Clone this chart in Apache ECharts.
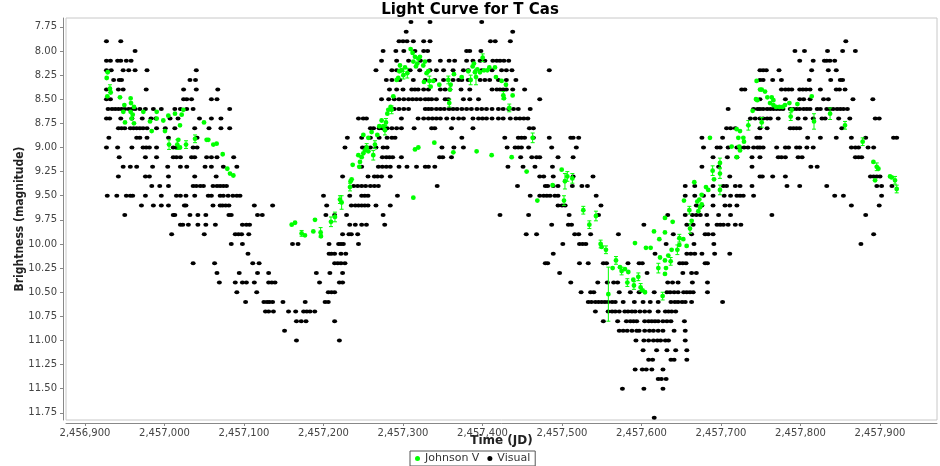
<!DOCTYPE html>
<html>
<head>
<meta charset="utf-8">
<script src="https://cdn.jsdelivr.net/npm/echarts@6/dist/echarts.min.js"></script>
<style>
html,body{margin:0;padding:0;background:#fff}
#chart{width:940px;height:466px}
</style>
</head>
<body>
<div id="chart"></div>
<script>
// julian dates are stored as days after jd0
const jd0 = 2456900
const xTicks = [2456900,2457000,2457100,2457200,2457300,2457400,2457500,2457600,2457700,2457800,2457900]
const yTicks = [7.75,8,8.25,8.5,8.75,9,9.25,9.5,9.75,10,10.25,10.5,10.75,11,11.25,11.5,11.75]

// visual estimates, one row per magnitude step
const visualRows = [
  [7.7,[410,434,499]],
  [7.8,[404,538]],
  [7.9,[27,45,395,400,405,413,426,434,510,516,535,957]],
  [8.0,[63,375,391,401,415,426,431,480,484,498,893,905,934,953,969]],
  [8.1,[27,32,41,45,52,58,373,392,407,422,433,447,458,465,480,488,497,503,513,518,522,527,533,899,916,930,933,937,943]],
  [8.2,[27,33,48,55,63,78,140,366,386,392,398,409,421,434,442,451,463,476,482,499,512,524,530,537,584,849,853,857,873,914,935,945]],
  [8.3,[36,43,46,132,139,379,386,396,413,428,440,451,463,470,474,482,497,503,509,520,530,542,849,853,865,876,911,938,950,953]],
  [8.4,[27,42,48,77,124,140,167,383,392,400,411,415,419,426,432,447,453,459,473,484,512,518,522,526,530,538,553,826,830,876,881,885,889,899,903,907,912,925,945,949,956]],
  [8.5,[27,32,124,128,134,159,166,373,382,389,395,401,407,412,417,422,428,432,436,442,453,457,476,484,495,572,849,881,899,904,912,929,935,966,991]],
  [8.6,[29,34,38,42,46,50,55,59,63,69,76,86,96,113,120,128,136,182,389,395,401,407,428,432,436,442,447,452,458,463,468,474,480,486,493,499,505,512,520,526,533,539,545,560,809,841,846,849,853,858,862,866,870,874,878,887,891,895,899,904,908,912,921,925,933,937,941,946,950,954,959]],
  [8.7,[27,31,45,59,72,83,89,107,117,144,159,171,344,350,354,398,419,426,432,437,442,447,455,463,470,476,488,495,500,505,512,520,526,535,542,547,552,557,837,843,849,853,858,862,872,897,906,916,927,931,948,962,994,999]],
  [8.8,[42,46,50,57,61,65,69,73,78,90,101,113,138,156,171,182,359,363,370,374,380,386,392,398,414,436,440,461,488,559,564,807,812,818,849,858,887,891,895,899,952]],
  [8.9,[30,65,69,78,105,141,330,348,359,370,380,386,390,474,528,545,549,553,564,584,611,614,621,776,802,845,849,909,925,945,964,982,1017,1021]],
  [9.0,[27,41,59,73,77,81,90,111,115,136,141,327,349,353,359,366,375,380,449,464,476,531,541,545,549,558,587,618,778,795,799,809,820,824,829,834,841,846,849,853,870,881,885,895,899,908,916,964,969,973,985,992]],
  [9.1,[43,76,90,111,115,120,134,138,153,159,166,187,374,379,383,387,398,446,450,461,548,562,568,572,595,614,790,808,820,839,849,872,876,881,897,902,969,973,977]],
  [9.2,[48,57,65,85,104,120,128,151,159,174,191,348,369,374,379,384,395,405,417,428,432,440,532,551,566,588,776,797,839,913,921]],
  [9.3,[42,76,81,105,138,165,324,356,364,368,373,384,572,577,589,614,639,811,849,852,865,881,988,992,996,1000]],
  [9.4,[84,94,105,136,140,145,149,161,166,170,174,178,338,343,348,353,359,364,369,443,544,579,582,589,595,613,625,632,755,767,790,803,807,818,824,839,883,899,933,996,1002,1015]],
  [9.5,[28,40,52,57,60,76,96,115,120,127,138,155,159,170,174,180,186,191,195,300,333,348,352,356,393,560,572,577,581,585,591,595,643,755,767,778,790,804,812,820,824,828,841,943,954,1002]],
  [9.6,[71,86,96,105,125,127,161,170,173,177,181,213,236,304,335,340,344,348,352,356,366,384,595,600,604,649,769,776,790,805,811,820,964,999]],
  [9.7,[50,111,113,132,142,152,181,184,217,223,303,314,329,375,522,558,609,646,733,755,764,769,774,782,797,812,864,982]],
  [9.8,[120,123,130,142,152,164,198,203,207,333,340,348,354,377,587,608,612,703,757,765,783,795,799,803,809,818,825]],
  [9.9,[109,150,189,193,197,206,324,332,335,343,555,568,616,621,636,671,740,763,780,784,790,992]],
  [10.0,[184,198,261,268,307,319,322,325,344,601,622,626,630,731,766,791,976]],
  [10.1,[205,307,310,314,322,328,589,717,757,762,767,776,792,811]],
  [10.2,[136,163,211,219,314,318,322,327,579,582,622,633,652,656,683,697,701,748,752,756,780,783]],
  [10.3,[166,194,217,231,291,308,324,597,707,752,763,769]],
  [10.4,[169,189,198,203,213,231,235,239,295,320,324,611,645,657,665,670,733,739,746,764,783]],
  [10.5,[191,216,306,310,314,624,636,640,672,686,697,716,732,736,741,746,753,757,761,765,783]],
  [10.6,[202,225,229,232,236,249,277,302,306,633,637,642,646,650,654,658,663,667,677,691,702,711,721,737,742,746,751,755,763,802]],
  [10.7,[227,231,237,256,265,275,279,283,289,642,658,663,667,672,679,683,688,692,698,704,710,721,730,734,738,743]],
  [10.8,[266,272,278,314,652,670,681,686,690,694,704,709,713,717,721,727,732,737,754]],
  [10.9,[251,672,677,682,688,694,697,704,710,715,721,727,741,755]],
  [11.0,[266,320,693,703,709,715,720,724,730,734,755]],
  [11.1,[702,719,732,743,757]],
  [11.2,[709,714,737,741,757]],
  [11.3,[692,701,706,713,727]],
  [11.4,[721,725,731]],
  [11.5,[676,703,727]],
  [11.8,[716]]
]

// Johnson V: [days after jd0, magnitude, error]
const johnsonV = [
  [28.5,8.22,0],[27.3,8.28,0],[31.4,8.39,0.04],[28.1,8.47,0],[32.3,8.43,0],[44.0,8.48,0],[49.5,8.56,0],[57.4,8.49,0],[57.9,8.54,0],[61.6,8.58,0],
  [48.2,8.63,0],[57.4,8.63,0],[60.0,8.66,0],[58.7,8.70,0],[61.6,8.75,0],[50.3,8.74,0],[73.4,8.63,0],[81.8,8.73,0],[83.9,8.83,0],[90.2,8.63,0],
  [90.2,8.70,0],[98.5,8.72,0],[104.8,8.67,0],[100.6,8.83,0],[113.2,8.65,0],[121.6,8.66,0],[123.7,8.61,0],[119.5,8.77,0],[149.7,8.74,0],[105.7,8.97,0.05],
  [117.4,8.92,0],[116.1,8.97,0.05],[119.5,9.00,0],[127.1,8.97,0.04],[138.4,8.91,0.04],[153.0,8.92,0],[155.1,8.92,0],[161.4,8.97,0],[165.6,8.96,0],[173.2,9.07,0],
  [179.0,9.22,0],[182.4,9.27,0],[186.6,9.29,0],
  [260,9.80,0],[264.2,9.78,0],[272.5,9.89,0.03],[276.7,9.91,0],[287.2,9.87,0],[289.3,9.75,0],[296.4,9.88,0.05],[296.8,9.92,0],[309.4,9.77,0.05],[314.4,9.72,0.05],[322.8,9.57,0.07],
  [320.7,9.54,0.04],[333.3,9.41,0.04],[335.4,9.33,0],[334.1,9.35,0],[336.7,9.18,0],[343.8,9.08,0],[345.9,9.15,0],[348.0,9.10,0],[350.1,9.06,0],[352.2,9.03,0],
  [354.3,9.00,0.04],[356.4,9.04,0],[345.0,9.20,0],[350.1,8.87,0],[356.4,8.90,0],[360.5,8.84,0],[364.7,8.97,0.04],[362.6,9.08,0.05],[367.7,8.87,0],[370.2,8.78,0],
  [373.1,8.72,0],[375.2,8.78,0],[377.3,8.82,0.05],[378.6,8.74,0.04],[380.3,8.65,0],[381.5,8.61,0],[384.4,8.58,0],[385.7,8.61,0.04],[387.8,8.47,0],[392.0,8.30,0],
  [394.1,8.28,0],[395.3,8.21,0],[396.2,8.15,0],[398.3,8.20,0],[400.4,8.25,0.04],[402.5,8.17,0],[405.4,8.23,0.05],[409.6,7.98,0],[412.1,8.02,0],[415.1,8.06,0],
  [416.3,8.16,0],[418.0,8.13,0],[419.3,8.08,0],[421.3,8.06,0],[413.0,8.11,0],[425.5,8.15,0],[427.6,8.11,0],[429.7,8.23,0],[431.8,8.21,0],[433.1,8.31,0.05],
  [426.4,8.32,0],[434.8,8.37,0],[438.1,8.31,0],[445.7,8.35,0],[457.0,8.30,0.04],[459.1,8.40,0],[459.9,8.35,0],[464.1,8.24,0],[473.8,8.27,0],[458.2,8.54,0.04],
  [482.1,8.21,0],[485.1,8.30,0.05],[487.6,8.16,0],[489.3,8.13,0],[490.5,8.22,0],[491.8,8.27,0.08],[493.5,8.19,0],[496.8,8.22,0],[500.2,8.07,0.04],[501.9,8.20,0],
  [506.1,8.20,0],[508.6,8.17,0],[515.7,8.17,0],[516.9,8.27,0],[524.1,8.31,0],[526.2,8.46,0.04],[527.0,8.49,0],[529.5,8.35,0],[533.7,8.59,0.04],[537.9,8.46,0],
  [413.0,9.52,0],[415.1,9.02,0],[419.3,9.00,0],[439.4,8.95,0],[463.3,9.05,0],[492.6,9.04,0],[511.5,9.08,0],[536.7,9.10,0],[555.5,9.25,0],[563.1,8.90,0.05],[569.0,9.55,0],
  [599.6,9.23,0],[588.2,9.39,0],[603.7,9.35,0.08],[606.7,9.30,0.05],[613.0,9.32,0.05],
  [602.5,9.55,0.05],[626.8,9.65,0.04],[642.7,9.71,0.05],[634.4,9.80,0.04],[648.6,10.00,0.04],[649.9,10.03,0],[655.3,10.06,0.04],[667.9,10.17,0.04],[663.7,10.25,0],[672.9,10.24,0],
  [675.0,10.28,0.04],[679.2,10.26,0],[683.4,10.29,0],[682.2,10.40,0.04],[689.7,10.37,0],[690.5,10.43,0.04],[696.0,10.34,0.04],[698.9,10.45,0.04],[701.4,10.48,0],[704.4,10.50,0],
  [658.3,10.52,0.28],[691.8,9.99,0],[705.6,10.04,0],[711.5,10.04,0],[715.7,9.87,0],[722.4,9.95,0],[729.5,9.88,0],[729.5,9.73,0],[739.2,9.77,0],[723.3,10.14,0],
  [729.5,10.17,0],[721.2,10.25,0.05],[730.8,10.25,0],[729.5,10.31,0],[733.7,10.12,0],[736.7,10.18,0.04],[737.9,10.06,0],[745.1,10.06,0.05],[747.6,9.94,0.04],[752.6,9.95,0],
  [756.8,10.02,0],[747.6,10.01,0],[761.0,9.84,0.05],[763.1,9.76,0],[760.2,9.65,0.04],[771.5,9.66,0],[773.6,9.62,0],[775.7,9.59,0],[753.4,9.55,0],[770.2,9.56,0],[726.6,10.54,0.04],
  [844.8,8.31,0],[845.7,8.51,0],[844.0,8.50,0],[839.8,8.62,0],[834.4,8.77,0.05],[819.7,8.81,0],[823.9,8.83,0],[821.8,8.90,0],[828.1,8.90,0],[828.9,8.94,0],
  [823.0,8.99,0],[823.9,9.03,0],[813.4,8.99,0],[819.7,9.10,0],[786.1,8.90,0],[798.7,9.16,0.05],[789.5,9.24,0.05],[798.7,9.27,0.05],[791.2,9.33,0],[781.1,9.41,0],
  [784.0,9.44,0],[766.4,9.36,0],[772.7,9.54,0],[775.7,9.49,0],[798.7,9.44,0.05],
  [849.1,8.40,0],[851.2,8.40,0],[855.4,8.42,0],[858.3,8.48,0],[863.8,8.48,0],[865.9,8.51,0],[861.7,8.54,0],[865.9,8.56,0],[869.2,8.58,0],[873.4,8.58,0],
  [877.6,8.58,0],[880.5,8.56,0],[886.0,8.54,0],[888.9,8.61,0],[887.7,8.68,0.04],[896.1,8.55,0],[914.1,8.47,0],[917.0,8.73,0.08],[937.2,8.65,0.06],[956.0,8.77,0.04],
  [978.2,8.94,0.04],[851.2,8.74,0.05],[991.7,9.15,0],[995.9,9.20,0.04],[998.0,9.22,0],[993.8,9.34,0],[1012.6,9.30,0],[1014.7,9.31,0],[1018.9,9.34,0.04],[1021.0,9.43,0.04]
]

const green = "#00ff00"
const font = "DejaVu Sans"

const visualData = []
visualRows.forEach(function(row){
  row[1].forEach(function(d){ visualData.push([jd0 + d, row[0]]) })
})
const jvData = johnsonV.map(p => [jd0 + p[0], p[1], p[2]])

function withCommas(v){
  return String(v).replace(/\B(?=(\d{3})+(?!\d))/g, ",")
}

// dot with its error bar
function drawJV(params, api){
  const x = api.value(0), y = api.value(1), e = api.value(2)
  const p = api.coord([x, y])
  const kids = []
  if(e > 0){
    const a = api.coord([x, y - e])[1]
    const b = api.coord([x, y + e])[1]
    const st = {stroke: green, lineWidth: 1}
    kids.push({type: "line", shape: {x1: p[0], y1: a, x2: p[0], y2: b}, style: st})
    kids.push({type: "line", shape: {x1: p[0] - 2, y1: a, x2: p[0] + 2, y2: a}, style: st})
    kids.push({type: "line", shape: {x1: p[0] - 2, y1: b, x2: p[0] + 2, y2: b}, style: st})
  }
  kids.push({type: "circle", shape: {cx: p[0], cy: p[1], r: 2.4}, style: {fill: green}})
  return {type: "group", children: kids}
}

const chart = echarts.init(document.getElementById("chart"))
chart.setOption({
  animation: false,
  title: {
    text: "Light Curve for T Cas",
    left: "center",
    top: -2,
    textStyle: {fontFamily: font, fontWeight: "bold", fontSize: 15, color: "#000"}
  },
  legend: {
    data: ["Johnson V", "Visual"],
    left: 410,
    bottom: 0,
    icon: "circle",
    itemWidth: 5,
    itemHeight: 5,
    itemGap: 8,
    padding: [2, 5],
    borderColor: "#555",
    borderWidth: 1,
    textStyle: {fontFamily: font, fontSize: 11, color: "#333"}
  },
  grid: {
    left: 66, right: 3, top: 18, bottom: 46,
    show: true,
    borderColor: "#c8c8c8",
    borderWidth: 1,
    backgroundColor: "#fff"
  },
  xAxis: {
    type: "value",
    min: jd0 - 23.9,
    max: jd0 + 1071.7,
    offset: 3,
    name: "Time (JD)",
    nameLocation: "middle",
    nameGap: 12,
    nameMoveOverlap: false,
    nameTextStyle: {fontFamily: font, fontWeight: "bold", fontSize: 12, color: "#222"},
    axisLine: {show: true, onZero: false, lineStyle: {color: "#888"}},
    axisTick: {show: true, length: 3, customValues: xTicks, lineStyle: {color: "#888"}},
    axisLabel: {customValues: xTicks, formatter: withCommas, margin: 5, fontFamily: font, fontSize: 10, color: "#444"},
    splitLine: {show: false}
  },
  yAxis: {
    type: "value",
    inverse: true,
    min: 7.658,
    max: 11.824,
    offset: 3,
    name: "Brightness (magnitude)",
    nameLocation: "middle",
    nameGap: 37,
    nameMoveOverlap: false,
    nameTextStyle: {fontFamily: "DejaVu Sans Condensed", fontWeight: "bold", fontSize: 12, color: "#222"},
    axisLine: {show: true, onZero: false, lineStyle: {color: "#888"}},
    axisTick: {show: true, length: 3, customValues: yTicks, lineStyle: {color: "#888"}},
    axisLabel: {customValues: yTicks, formatter: v => v.toFixed(2), margin: 6, fontFamily: font, fontSize: 10, color: "#444"},
    splitLine: {show: false}
  },
  series: [
    {
      name: "Johnson V",
      type: "custom",
      renderItem: drawJV,
      itemStyle: {color: green},
      encode: {x: 0, y: 1},
      data: jvData,
      z: 3
    },
    {
      name: "Visual",
      type: "scatter",
      symbol: "circle",
      symbolSize: [5, 4],
      itemStyle: {color: "#000", opacity: 1},
      data: visualData,
      z: 2
    }
  ]
})
</script>
</body>
</html>
